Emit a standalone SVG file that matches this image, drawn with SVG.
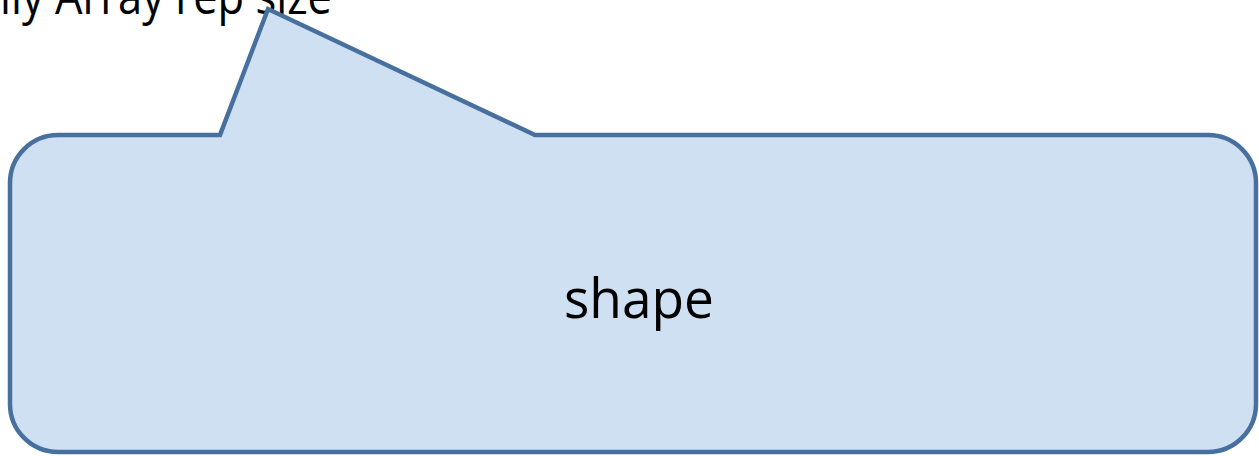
<svg xmlns="http://www.w3.org/2000/svg" width="1259" height="456" viewBox="0 0 1259 456">
  <style>
    .lbl { font-family: "Open Sans", "Liberation Sans", sans-serif; fill: #000000; }
    .callout { fill: #d0e0f3; stroke: #48709e; stroke-width: 4.5; stroke-linejoin: miter; }
  </style>
  <rect x="0" y="0" width="1259" height="456" fill="#ffffff"/>
  <g id="caption">
    <text class="lbl" x="0" y="14" font-size="50" textLength="332" lengthAdjust="spacingAndGlyphs">ily Array rep size</text>
  </g>
  <g id="shape-node">
    <path class="callout" d="M 58 135 L 220 135 L 268 9 L 535 135 L 1208 135 A 48 48 0 0 1 1256 183 L 1256 404 A 48 48 0 0 1 1208 452 L 58 452 A 48 48 0 0 1 10 404 L 10 183 A 48 48 0 0 1 58 135 Z"/>
    <text class="lbl" x="639" y="318" font-size="54" text-anchor="middle" textLength="150" lengthAdjust="spacingAndGlyphs">shape</text>
  </g>
  <g id="connectors"/>
</svg>
